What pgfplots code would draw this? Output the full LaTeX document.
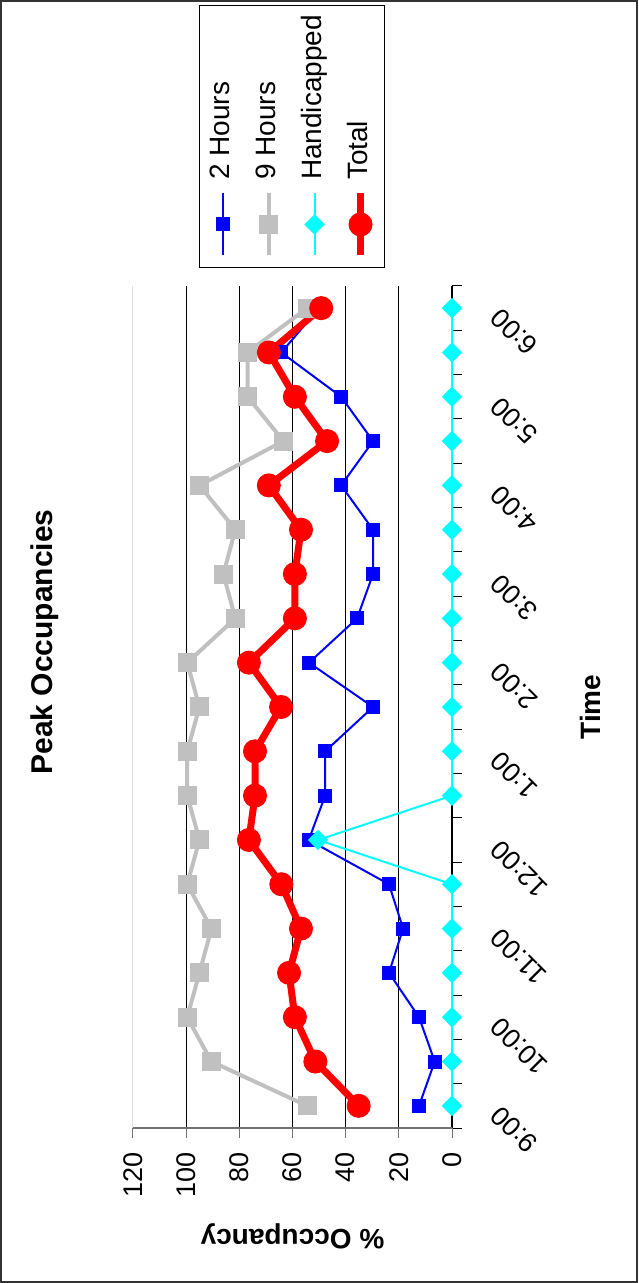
\documentclass[border=0pt]{standalone}
\usepackage{pgfplots}
\pgfplotsset{compat=1.18}
\usepackage{fontspec}
\setmainfont{Liberation Sans}
\definecolor{hblue}{RGB}{0,0,255}
\definecolor{hgray}{RGB}{192,192,192}
\definecolor{hcyan}{RGB}{0,255,255}
\definecolor{hred}{RGB}{255,0,0}
\begin{document}
\begin{tikzpicture}[rotate=90, transform shape]
\begin{axis}[
  at={(77.5pt,93pt)}, anchor=south west,
  scale only axis, width=421pt, height=159.5pt,
  xmin=-0.5, xmax=18.5, ymin=0, ymax=120,
  clip=false,
  axis x line*=bottom, axis y line*=left,
  x axis line style={black, line width=0.6pt, -},
  y axis line style={black!55, line width=0.6pt, -},
  tick align=outside, major tick length=0pt, minor tick length=5pt,
  xtick={0,2,...,18},
  xticklabels={9:00,10:00,11:00,12:00,1:00,2:00,3:00,4:00,5:00,6:00},
  minor xtick={-0.5,0.5,...,18.5},
  xtick style={black, line width=0.5pt},
  ytick={0,20,...,100},
  minor ytick={0,20,...,120},
  extra y ticks={120},
  extra y tick style={major grid style={black!12, line width=0.5pt}},
  ytick style={black!55, line width=0.5pt},
  ymajorgrids,
  major grid style={black, line width=0.5pt},
  /pgf/number format/assume math mode=true,
  ticklabel style={font=\fontsize{13.5}{16}\selectfont},
  yticklabel style={inner sep=0pt, anchor=east, xshift=-12pt},
  xticklabel style={inner sep=0pt, anchor=north east, xshift=-6pt, yshift=-18pt, rotate=45},
  xlabel={Time},
  ylabel={\% Occupancy},
  every axis x label/.style={at={(axis description cs:0.5,0)}, anchor=base, yshift=-74pt, font=\bfseries\fontsize{14}{16}\selectfont},
  every axis y label/.style={at={(axis description cs:0,0.5)}, xshift=-50.5pt, rotate=90, anchor=base, font=\bfseries\fontsize{14}{16}\selectfont},
  title={Peak Occupancies},
  every axis title/.style={at={(axis description cs:0.5772,1)}, anchor=base, yshift=40pt, font=\bfseries\fontsize{15}{18}\selectfont},
  legend style={at={(axis description cs:1.177,0.503)}, anchor=center,
    draw=black, line width=0.5pt, inner xsep=4.5pt, inner ysep=5.25pt,
    font=\fontsize{14}{17}\selectfont,
    nodes={inner sep=0pt, text height=10pt, text depth=3pt},
    column sep=5pt, row sep=10pt},
  legend cell align=left,
  legend image code/.code={
    \draw[mark repeat=2,mark phase=2,#1] plot coordinates {(0pt,0pt) (15.5pt,0pt) (31pt,0pt)};
  },
]
\addplot[hblue, line width=1pt, mark=square*, mark size=3pt, mark options={fill=hblue, draw=hblue}] coordinates {
(0,12.4) (1,6.5) (2,12.4) (3,23.7) (4,18.4) (5,23.7) (6,53.9) (7,47.7) (8,47.7) (9,29.7)
(10,53.8) (11,35.7) (12,29.7) (13,29.7) (14,41.7) (15,29.7) (16,41.7) (17,64.2) (18,50)
};
\addlegendentry{2 Hours}
\addplot[hgray, line width=2pt, mark=square*, mark size=4.5pt, mark options={fill=hgray, draw=hgray, line width=0.5pt}] coordinates {
(0,54.5) (1,90.5) (2,99.6) (3,95) (4,90.5) (5,99.6) (6,95) (7,99.6) (8,99.6) (9,95)
(10,99.6) (11,81.5) (12,86) (13,81.5) (14,95) (15,63.4) (16,76.9) (17,76.9) (18,54.5)
};
\addlegendentry{9 Hours}
\addplot[hcyan, line width=1pt, mark=square*, mark size=3.1pt, mark options={fill=hcyan, draw=hcyan, rotate=45}] coordinates {
(0,0) (1,0) (2,0) (3,0) (4,0) (5,0) (6,50.4) (7,0) (8,0) (9,0)
(10,0) (11,0) (12,0) (13,0) (14,0) (15,0) (16,0) (17,0) (18,0)
};
\addlegendentry{Handicapped}
\addplot[hred, line width=3.5pt, mark=*, mark size=5.75pt, mark options={fill=hred, draw=hred, line width=0.5pt}] coordinates {
(0,35.1) (1,51.4) (2,59.1) (3,61.3) (4,56.8) (5,64.2) (6,76.4) (7,74.1) (8,74.1) (9,64.3)
(10,76.4) (11,59.1) (12,59.1) (13,56.8) (14,68.9) (15,47) (16,59.1) (17,68.9) (18,49.2)
};
\addlegendentry{Total}
\end{axis}
\draw[line width=1pt, black!80] (0.5pt,0.5pt) rectangle (641pt,318.5pt);
\pgfresetboundingbox
\path (0pt,0pt) rectangle (641.5pt,319pt);
\end{tikzpicture}
\end{document}
